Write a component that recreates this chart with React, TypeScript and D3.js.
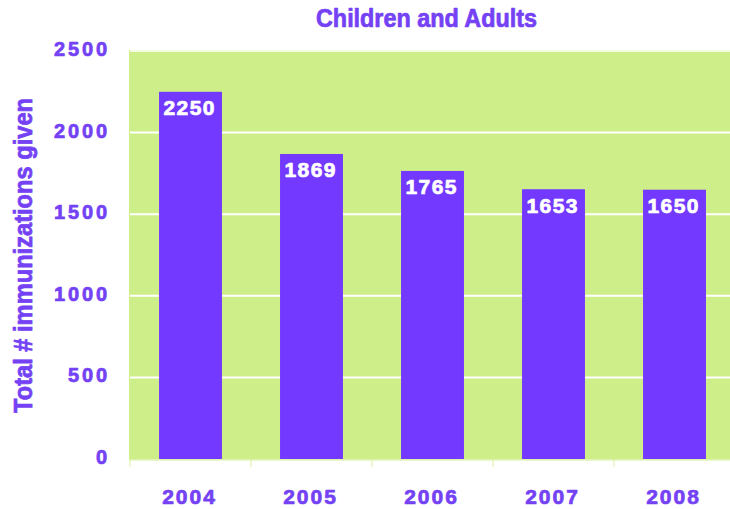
import React from "react";
import * as d3 from "d3";

const years = ["2004", "2005", "2006", "2007", "2008"];
const values = [2250, 1869, 1765, 1653, 1650];
const yTicks = [0, 500, 1000, 1500, 2000, 2500];
const title = "Children and Adults";
const yTitle = "Total # immunizations given";

const W = 730, H = 509;
const left = 130, right = 735, top = 50, bottom = 459;
const purple = "#7439FF";
const textPurple = "#7442F4";
const green = "#CDEE88";
const font = "'Liberation Sans', Arial, sans-serif";

const numLen = (s: string, fs: number, gap: number) => s.length * 0.556 * fs + (s.length - 1) * gap;

export default function App() {
  const x = d3.scaleBand().domain(years).range([left, right]).paddingInner(0.48).paddingOuter(0.24);
  const y = d3.scaleLinear().domain([0, 2500]).range([bottom, top + 1]);
  const step = x.step();
  const bandStarts = years.map((yr) => (x(yr) as number) - (step - x.bandwidth()) / 2);
  const heavy = (c: string) => ({ fill: c, stroke: c, strokeWidth: 0.7, strokeLinejoin: "round" as const });
  return (
    <svg width={W} height={H} style={{ position: "absolute", left: 0, top: 0, background: "#fff" }}>
      <rect x={left - 1} y={top} width={right - left + 1} height={bottom - top + 1} fill={green} />
      {yTicks.filter((t) => t > 0).map((t) => (
        <line key={t} x1={left} x2={right} y1={y(t)} y2={y(t)} stroke="#fff" strokeWidth={t === 2500 ? 1.5 : 2} />
      ))}
      {years.map((yr, i) => (
        <rect key={yr} x={x(yr)} y={y(values[i])} width={x.bandwidth()} height={bottom - y(values[i])} fill={purple} />
      ))}
      {years.map((yr, i) => {
        const s = String(values[i]);
        return (
          <text key={"v" + yr} x={(x(yr) as number) + x.bandwidth() / 2 - 1.5} y={y(values[i]) + 23.5}
            textAnchor="middle" {...heavy("#fff")} fontFamily={font} fontWeight="bold" fontSize={21}
            textLength={numLen(s, 21, 1.4)} lengthAdjust="spacing">
            {s}
          </text>
        );
      })}
      <line x1={left} x2={right} y1={bottom + 1} y2={bottom + 1} stroke="#e2f4bd" strokeWidth={1.5} />
      {bandStarts.map((bx, i) => (
        <line key={"t" + i} x1={bx} x2={bx} y1={bottom + 1} y2={bottom + 8} stroke="#d8f0a8" strokeWidth={1} />
      ))}
      {years.map((yr) => (
        <text key={"x" + yr} x={(x(yr) as number) + x.bandwidth() / 2 - 2} y={504}
          textAnchor="middle" {...heavy(textPurple)} fontFamily={font} fontWeight="bold" fontSize={21}
          textLength={numLen(yr, 21, 2)} lengthAdjust="spacing">
          {yr}
        </text>
      ))}
      {yTicks.map((t) => {
        const s = String(t);
        return (
          <text key={"y" + t} x={107} y={y(t) + 5} textAnchor="end" {...heavy(textPurple)}
            fontFamily={font} fontWeight="bold" fontSize={20}
            textLength={numLen(s, 20, 2.8)} lengthAdjust="spacing">
            {s}
          </text>
        );
      })}
      <text x={426.5} y={27.3} textAnchor="middle" {...heavy(textPurple)} fontFamily={font} fontWeight="bold" fontSize={25}
        textLength={221} lengthAdjust="spacingAndGlyphs">
        {title}
      </text>
      <text transform={`translate(32, 255.5) rotate(-90)`} textAnchor="middle" {...heavy(textPurple)}
        fontFamily={font} fontWeight="bold" fontSize={25} textLength={315} lengthAdjust="spacingAndGlyphs">
        {yTitle}
      </text>
    </svg>
  );
}
